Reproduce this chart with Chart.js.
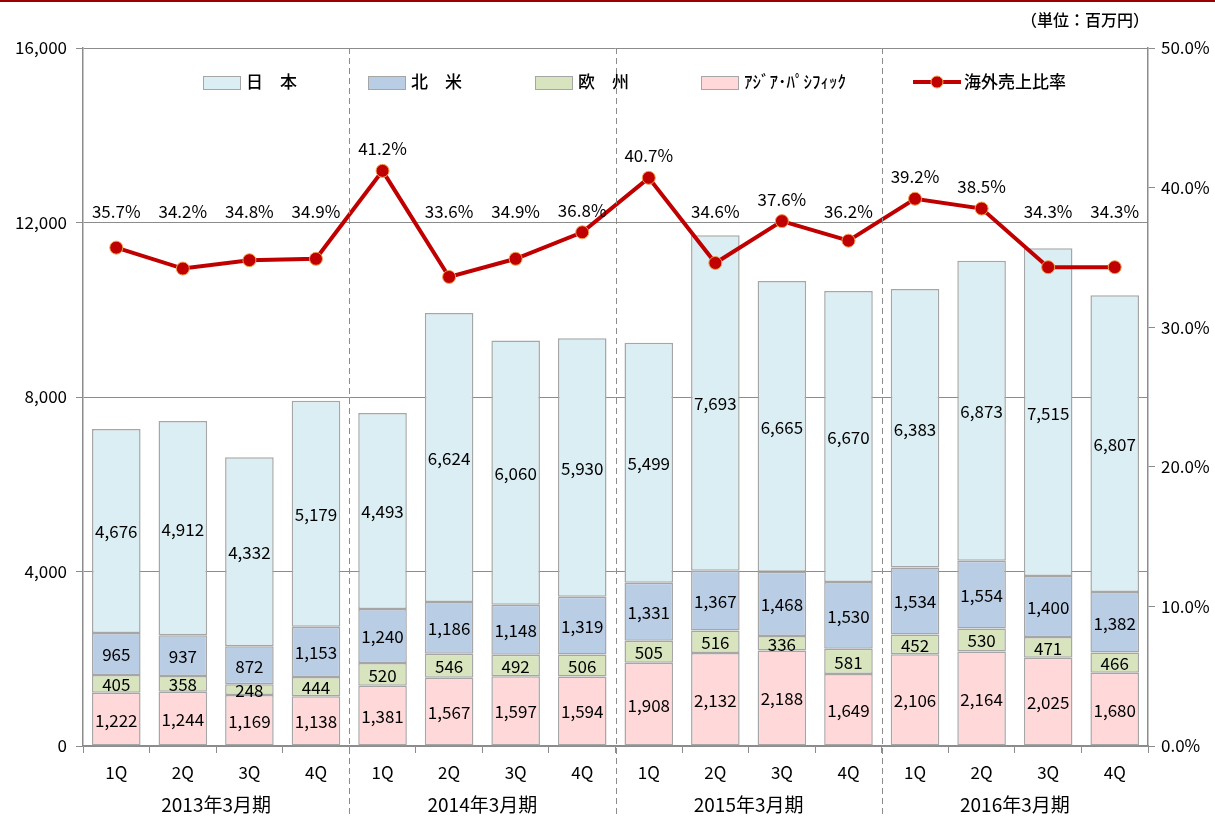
<!DOCTYPE html>
<html>
<head>
<meta charset="utf-8">
<script src="https://cdn.jsdelivr.net/npm/chart.js@4.4.0/dist/chart.umd.min.js"></script>
<style>
    html, body { margin: 0; padding: 0; background: #fff; }
    #wrap { position: relative; width: 1215px; height: 818px; }
    #topline { position: absolute; left: 0; top: 0; width: 1215px; height: 2px; background: #9b0000; }
    #unit { position: absolute; right: 66px; top: 7px; font: 500 16px "Noto Sans CJK JP", sans-serif; color: #000; }
</style>
</head>
<body>
<div id="wrap">
    <canvas id="chart" width="1215" height="818"></canvas>
    <div id="topline"></div>
    <div id="unit">（単位：百万円）</div>
</div>
<script>
// quarters and fiscal years
const quarters = ['1Q', '2Q', '3Q', '4Q', '1Q', '2Q', '3Q', '4Q', '1Q', '2Q', '3Q', '4Q', '1Q', '2Q', '3Q', '4Q'];
const fiscalYears = ['2013年3月期', '2014年3月期', '2015年3月期', '2016年3月期'];

// sales by region (百万円)
const asiaPacific = [1222, 1244, 1169, 1138, 1381, 1567, 1597, 1594, 1908, 2132, 2188, 1649, 2106, 2164, 2025, 1680];
const europe = [405, 358, 248, 444, 520, 546, 492, 506, 505, 516, 336, 581, 452, 530, 471, 466];
const northAmerica = [965, 937, 872, 1153, 1240, 1186, 1148, 1319, 1331, 1367, 1468, 1530, 1534, 1554, 1400, 1382];
const japan = [4676, 4912, 4332, 5179, 4493, 6624, 6060, 5930, 5499, 7693, 6665, 6670, 6383, 6873, 7515, 6807];

// overseas sales ratio (%)
const overseasRatio = [35.7, 34.2, 34.8, 34.9, 41.2, 33.6, 34.9, 36.8, 40.7, 34.6, 37.6, 36.2, 39.2, 38.5, 34.3, 34.3];

const FONT = '"Noto Sans CJK JP", sans-serif';
const AXIS_GRAY = '#8c8c8c';
const BAR_BORDER = '#a6a6a6';

const legendItems = [
    { label: '日　本', color: '#dbeef3', x: 203 },
    { label: '北　米', color: '#b9cde5', x: 368 },
    { label: '欧　州', color: '#d7e4bd', x: 535 },
    { label: 'ｱｼﾞｱ･ﾊﾟｼﾌｨｯｸ', color: '#ffd9da', x: 701 }
];

function fmt(v) {
    return v.toLocaleString('en-US');
}

const labelsPlugin = {
    id: 'labels',
    afterDatasetsDraw(chart) {
        const ctx = chart.ctx;
        ctx.save();
        ctx.fillStyle = '#000';
        ctx.textAlign = 'center';
        ctx.textBaseline = 'middle';
        ctx.font = '17px ' + FONT;
        chart.data.datasets.forEach((ds, i) => {
            const meta = chart.getDatasetMeta(i);
            if (ds.type === 'line') {
                const y1 = chart.scales.y1;
                const cap = y1.getPixelForValue(38.3);
                meta.data.forEach((pt, j) => {
                    const ly = Math.min(pt.y - 22, cap);
                    ctx.fillText(ds.data[j].toFixed(1) + '%', pt.x, ly);
                });
            } else {
                meta.data.forEach((bar, j) => {
                    ctx.fillText(fmt(ds.data[j]), bar.x, (bar.y + bar.base) / 2 + 1);
                });
            }
        });
        ctx.restore();
    },
    afterDraw(chart) {
        const ctx = chart.ctx;
        const area = chart.chartArea;
        const x = chart.scales.x;
        ctx.save();

        // dashed separators between fiscal years
        ctx.strokeStyle = '#8c8c8c';
        ctx.lineWidth = 1;
        ctx.setLineDash([6, 4]);
        [3.5, 7.5, 11.5].forEach(pos => {
            const px = Math.round((x.getPixelForValue(Math.floor(pos)) + x.getPixelForValue(Math.ceil(pos))) / 2) + 0.5;
            ctx.beginPath();
            ctx.moveTo(px, area.top);
            ctx.lineTo(px, 818);
            ctx.stroke();
        });
        ctx.setLineDash([]);

        // fiscal year labels
        ctx.fillStyle = '#000';
        ctx.font = '19px ' + FONT;
        ctx.textAlign = 'center';
        ctx.textBaseline = 'middle';
        fiscalYears.forEach((fy, k) => {
            const cx = (x.getPixelForValue(k * 4) + x.getPixelForValue(k * 4 + 3)) / 2;
            ctx.fillText(fy, cx, 805);
        });

        // legend
        ctx.textAlign = 'left';
        ctx.font = '500 17px ' + FONT;
        legendItems.forEach(it => {
            ctx.fillStyle = it.color;
            ctx.fillRect(it.x, 76, 37, 13);
            ctx.strokeStyle = BAR_BORDER;
            ctx.lineWidth = 1;
            ctx.strokeRect(it.x + 0.5, 76.5, 37, 13);
            ctx.fillStyle = '#000';
            ctx.fillText(it.label, it.x + 43, 82);
        });
        ctx.strokeStyle = '#c00000';
        ctx.lineWidth = 4;
        ctx.beginPath();
        ctx.moveTo(913, 82);
        ctx.lineTo(961, 82);
        ctx.stroke();
        ctx.beginPath();
        ctx.arc(937, 82, 6, 0, Math.PI * 2);
        ctx.fillStyle = '#c00000';
        ctx.fill();
        ctx.lineWidth = 1;
        ctx.strokeStyle = '#f0a050';
        ctx.stroke();
        ctx.fillStyle = '#000';
        ctx.fillText('海外売上比率', 964, 82);

        ctx.restore();
    }
};

function barSet(label, data, color) {
    return {
        type: 'bar',
        label: label,
        data: data,
        backgroundColor: color,
        borderColor: BAR_BORDER,
        borderWidth: 1.5,
        borderSkipped: false,
        stack: 'sales',
        yAxisID: 'y',
        order: 1,
        barPercentage: 0.73,
        categoryPercentage: 1.0
    };
}

new Chart(document.getElementById('chart'), {
    type: 'bar',
    data: {
        labels: quarters,
        datasets: [
            {
                type: 'line',
                label: '海外売上比率',
                data: overseasRatio,
                yAxisID: 'y1',
                borderColor: '#c00000',
                borderWidth: 4,
                pointRadius: 6.5,
                pointBackgroundColor: '#c00000',
                pointBorderColor: '#f0a050',
                pointBorderWidth: 1,
                tension: 0,
                order: 0
            },
            barSet('ｱｼﾞｱ･ﾊﾟｼﾌｨｯｸ', asiaPacific, '#ffd9da'),
            barSet('欧　州', europe, '#d7e4bd'),
            barSet('北　米', northAmerica, '#b9cde5'),
            barSet('日　本', japan, '#dbeef3')
        ]
    },
    options: {
        responsive: false,
        animation: false,
        layout: { padding: { top: 48, left: 0, right: 0, bottom: 0 } },
        plugins: {
            legend: { display: false },
            title: { display: false },
            tooltip: { enabled: false }
        },
        scales: {
            x: {
                stacked: true,
                grid: {
                    offset: true,
                    drawOnChartArea: false,
                    drawTicks: true,
                    tickLength: 7,
                    color: AXIS_GRAY
                },
                border: { color: AXIS_GRAY, width: 1.5 },
                ticks: {
                    color: '#000',
                    padding: 9,
                    maxRotation: 0,
                    autoSkip: false,
                    font: { family: FONT, size: 17 }
                },
                afterFit(axis) { axis.height = 72; }
            },
            y: {
                stacked: true,
                min: 0,
                max: 16000,
                grid: { color: AXIS_GRAY, tickLength: 7 },
                border: { color: AXIS_GRAY, width: 1.5 },
                ticks: {
                    stepSize: 4000,
                    color: '#000',
                    padding: 9,
                    font: { family: FONT, size: 17 },
                    callback: v => fmt(v)
                },
                afterFit(axis) { axis.width = 83; }
            },
            y1: {
                position: 'right',
                min: 0,
                max: 50,
                grid: { drawOnChartArea: false, color: AXIS_GRAY, tickLength: 7 },
                border: { color: AXIS_GRAY, width: 1.5 },
                ticks: {
                    stepSize: 10,
                    color: '#000',
                    padding: 6,
                    font: { family: FONT, size: 17 },
                    callback: v => v.toFixed(1) + '%'
                },
                afterFit(axis) { axis.width = 67; }
            }
        }
    },
    plugins: [labelsPlugin]
});
</script>
</body>
</html>
